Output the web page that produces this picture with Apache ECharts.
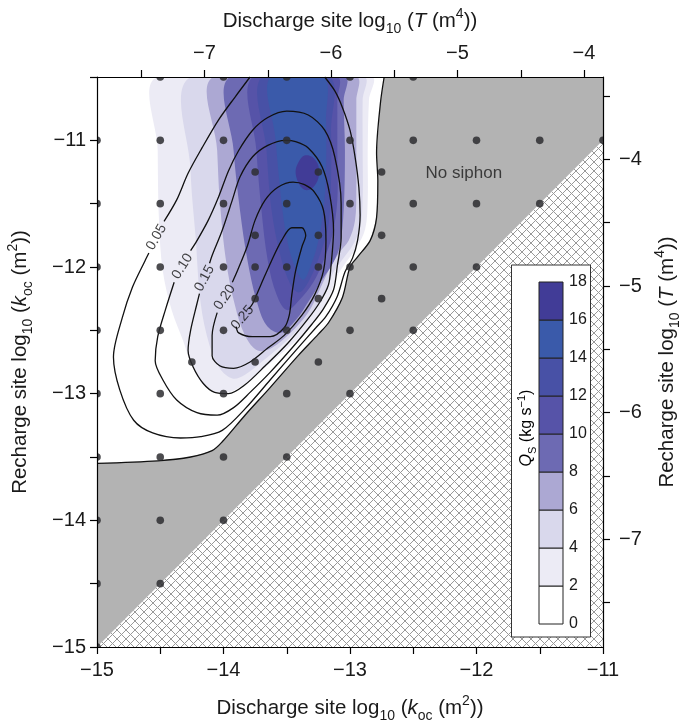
<!DOCTYPE html>
<html><head><meta charset="utf-8">
<script src="https://cdn.jsdelivr.net/npm/echarts@6/dist/echarts.min.js"></script>
<style>html,body{margin:0;padding:0;background:#fff}#c{width:685px;height:723px}</style>
</head><body><div id="c"></div>
<script>
// ---------------- data (log10 k units) ----------------
const kTicksX = [-15, -14, -13, -12, -11];
const kMinorX = [-15, -14.5, -14, -13.5, -13, -12.5, -12, -11.5, -11];
const kTicksY = [-15, -14, -13, -12, -11];
const kMinorY = [-15, -14.5, -14, -13.5, -13, -12.5, -12, -11.5, -11, -10.5];
const tTicksTop = [-7, -6, -5, -4];
const tMinorTop = [-7.5, -7, -6.5, -6, -5.5, -5, -4.5, -4];
const tTicksRight = [-7, -6, -5, -4];
const tMinorRight = [-7.5, -7, -6.5, -6, -5.5, -5, -4.5, -4, -3.5];
const kToT = 7.15; // log10 T = log10 k + 7.15

const qsLevels = [0, 2, 4, 6, 8, 10, 12, 14, 16, 18];
const qsColors = ['#ffffff', '#ecebf5', '#d9d8ec', '#aca8d3', '#6d6ab3', '#5653a8', '#4851a6', '#3a5aaa', '#413c97'];

// model sample points
const samplePts = [
  [-14.5,-10.5],[-14,-10.5],[-13.5,-10.5],[-13,-10.5],[-12.5,-10.5],
  [-15,-11],[-14.5,-11],[-14,-11],[-13.5,-11],[-13,-11],[-12.5,-11],[-12,-11],[-11.5,-11],[-11,-11],
  [-13.75,-11.25],[-13.25,-11.25],[-12.75,-11.25],
  [-15,-11.5],[-14.5,-11.5],[-14,-11.5],[-13.5,-11.5],[-13,-11.5],[-12.5,-11.5],[-12,-11.5],[-11.5,-11.5],
  [-13.75,-11.75],[-13.25,-11.75],[-12.75,-11.75],
  [-15,-12],[-14.5,-12],[-14,-12],[-13.75,-12],[-13.5,-12],[-13.25,-12],[-13,-12],[-12.5,-12],[-12,-12],
  [-13.75,-12.25],[-13.25,-12.25],[-12.75,-12.25],
  [-15,-12.5],[-14.5,-12.5],[-14,-12.5],[-13.5,-12.5],[-13,-12.5],[-12.5,-12.5],
  [-14.25,-12.75],[-13.75,-12.75],[-13.25,-12.75],
  [-15,-13],[-14.5,-13],[-14,-13],[-13.5,-13],[-13,-13],
  [-15,-13.5],[-14.5,-13.5],[-14,-13.5],[-13.5,-13.5],
  [-15,-14],[-14.5,-14],[-14,-14],
  [-15,-14.5],[-14.5,-14.5],
  [-15,-15]
];

// siphon boundary (Qs = 0)
const lineSiphon = [[-15.00,-13.55],[-14.52,-13.53],[-14.26,-13.50],[-14.09,-13.45],[-14.01,-13.38],[-13.83,-13.17],[-13.63,-12.95],[-13.41,-12.70],[-13.25,-12.53],[-13.17,-12.44],[-13.06,-12.24],[-13.00,-12.00],[-12.94,-11.92],[-12.84,-11.79],[-12.79,-11.61],[-12.78,-11.32],[-12.79,-11.10],[-12.76,-10.71],[-12.73,-10.50]];
const noSiphonCorners = [[-11,-10.5],[-11,-11],[-15,-15]];
const hatchPoly = [[-15,-15],[-11,-11],[-11,-15]];

// efficiency contour lines
const line005a = [[-13.79,-10.50],[-13.91,-10.66],[-14.04,-10.84],[-14.17,-11.06],[-14.28,-11.26],[-14.37,-11.47],[-14.47,-11.64]];
const line005b = [[-14.59,-11.89],[-14.62,-11.95],[-14.72,-12.16],[-14.80,-12.40],[-14.87,-12.71],[-14.82,-12.97],[-14.71,-13.21],[-14.56,-13.31],[-14.34,-13.35],[-14.18,-13.34],[-14.01,-13.29],[-13.83,-13.12],[-13.63,-12.89],[-13.43,-12.66],[-13.27,-12.48],[-13.19,-12.39],[-13.10,-12.23],[-13.04,-12.04],[-12.98,-11.93],[-12.94,-11.79],[-12.92,-11.59],[-12.93,-11.37],[-12.96,-11.13],[-13.00,-10.92],[-13.06,-10.74],[-13.12,-10.61],[-13.20,-10.50]];
const line010 = [[-14.39,-12.12],[-14.46,-12.34],[-14.52,-12.55],[-14.54,-12.74],[-14.48,-12.89],[-14.37,-13.05],[-14.21,-13.15],[-14.05,-13.17],[-13.92,-13.11],[-13.79,-12.99],[-13.63,-12.83],[-13.45,-12.63],[-13.30,-12.45],[-13.21,-12.33],[-13.13,-12.18],[-13.10,-11.99],[-13.07,-11.77],[-13.07,-11.50],[-13.12,-11.13],[-13.20,-10.92],[-13.33,-10.80],[-13.50,-10.77],[-13.65,-10.82],[-13.77,-10.92],[-13.88,-11.08],[-13.96,-11.24],[-14.04,-11.45],[-14.12,-11.63],[-14.22,-11.81],[-14.26,-11.87]];
const line015 = [[-14.19,-12.21],[-14.21,-12.29],[-14.26,-12.50],[-14.28,-12.66],[-14.24,-12.79],[-14.16,-12.92],[-14.07,-12.99],[-13.96,-13.00],[-13.83,-12.93],[-13.67,-12.78],[-13.49,-12.60],[-13.34,-12.42],[-13.24,-12.28],[-13.17,-12.14],[-13.15,-11.99],[-13.13,-11.71],[-13.16,-11.43],[-13.22,-11.21],[-13.33,-11.06],[-13.43,-11.01],[-13.51,-11.00],[-13.65,-11.04],[-13.77,-11.13],[-13.87,-11.29],[-13.93,-11.47],[-14.01,-11.71],[-14.09,-11.91],[-14.11,-11.97]];
const line020 = [[-14.05,-12.36],[-14.09,-12.54],[-14.09,-12.70],[-14.03,-12.78],[-13.92,-12.80],[-13.79,-12.75],[-13.65,-12.64],[-13.52,-12.54],[-13.38,-12.38],[-13.28,-12.22],[-13.21,-12.03],[-13.19,-11.79],[-13.21,-11.55],[-13.28,-11.41],[-13.36,-11.35],[-13.45,-11.33],[-13.57,-11.37],[-13.67,-11.47],[-13.75,-11.63],[-13.81,-11.83],[-13.89,-12.03],[-13.93,-12.12]];
const line025 = [[-13.90,-12.47],[-13.88,-12.52],[-13.77,-12.55],[-13.63,-12.55],[-13.52,-12.48],[-13.48,-12.38],[-13.46,-12.22],[-13.43,-12.03],[-13.38,-11.84],[-13.35,-11.75],[-13.38,-11.69],[-13.46,-11.69],[-13.54,-11.79],[-13.62,-11.95],[-13.70,-12.13],[-13.77,-12.29],[-13.80,-12.33]];
const contourLabelText = ['0.05', '0.10', '0.15', '0.20', '0.25'];
const contourLabelPos = [[-14.53,-11.765],[-14.325,-11.995],[-14.15,-12.09],[-13.99,-12.24],[-13.85,-12.40]];
const contourLabelAngle = [60, 58, 62, 56, 50];

// filled Qs regions (Qs >= level)
const qsFill2 = [[-14.52,-10.50],[-14.52,-11.08],[-14.51,-11.63],[-14.48,-12.03],[-14.41,-12.34],[-14.32,-12.58],[-14.24,-12.80],[-14.15,-12.94],[-14.02,-13.00],[-13.89,-12.96],[-13.73,-12.84],[-13.54,-12.68],[-13.34,-12.50],[-13.19,-12.29],[-13.10,-12.07],[-13.03,-11.96],[-12.95,-11.85],[-12.88,-11.70],[-12.86,-11.47],[-12.86,-11.08],[-12.85,-10.68],[-12.83,-10.50]];
const qsFill4 = [[-14.26,-10.50],[-14.26,-11.24],[-14.22,-11.77],[-14.18,-12.29],[-14.11,-12.62],[-14.03,-12.80],[-13.93,-12.88],[-13.83,-12.85],[-13.70,-12.75],[-13.51,-12.59],[-13.33,-12.40],[-13.21,-12.22],[-13.13,-12.04],[-13.06,-11.94],[-12.98,-11.83],[-12.92,-11.69],[-12.90,-11.47],[-12.90,-11.08],[-12.90,-10.68],[-12.89,-10.50]];
const qsFill6 = [[-14.08,-10.50],[-14.05,-11.08],[-14.03,-11.47],[-13.98,-11.95],[-13.91,-12.30],[-13.83,-12.54],[-13.73,-12.66],[-13.62,-12.64],[-13.47,-12.52],[-13.33,-12.36],[-13.24,-12.18],[-13.16,-12.01],[-13.08,-11.88],[-13.01,-11.79],[-12.96,-11.63],[-12.95,-11.39],[-12.95,-11.00],[-12.95,-10.68],[-12.95,-10.50]];
const qsFill8 = [[-13.95,-10.50],[-13.92,-11.08],[-13.87,-11.55],[-13.81,-11.95],[-13.74,-12.26],[-13.66,-12.46],[-13.55,-12.52],[-13.43,-12.42],[-13.32,-12.26],[-13.22,-12.10],[-13.13,-11.96],[-13.08,-11.83],[-13.05,-11.55],[-13.04,-11.08],[-13.05,-10.68],[-13.04,-10.50]];
const qsFill10 = [[-13.77,-10.50],[-13.74,-11.08],[-13.70,-11.55],[-13.65,-11.95],[-13.58,-12.22],[-13.50,-12.34],[-13.40,-12.26],[-13.29,-12.12],[-13.21,-11.95],[-13.14,-11.75],[-13.10,-11.47],[-13.10,-11.08],[-13.10,-10.68],[-13.10,-10.50]];
const qsFill12 = [[-13.70,-10.50],[-13.66,-11.08],[-13.62,-11.55],[-13.55,-11.91],[-13.47,-12.14],[-13.40,-12.20],[-13.32,-12.10],[-13.24,-11.91],[-13.17,-11.67],[-13.15,-11.32],[-13.15,-10.92],[-13.16,-10.50]];
const qsFill14 = [[-13.63,-10.50],[-13.59,-10.98],[-13.54,-11.50],[-13.50,-11.77],[-13.45,-11.96],[-13.37,-12.10],[-13.30,-11.96],[-13.25,-11.79],[-13.21,-11.55],[-13.19,-11.24],[-13.19,-10.84],[-13.21,-10.50]];
const qsFill16 = [[-13.36,-11.12],[-13.30,-11.13],[-13.25,-11.20],[-13.25,-11.30],[-13.30,-11.38],[-13.36,-11.39],[-13.41,-11.33],[-13.43,-11.24],[-13.40,-11.16]];
const noSiphonText = 'No siphon';
const noSiphonPos = [-12.10, -11.26];

// ---------------- chart ----------------
const FONT = '"Liberation Sans", Arial, Helvetica, sans-serif';
const TXT = '#1a1a1a';
function fmt(v) { return (v < 0 ? '\u2212' : '') + Math.abs(v); }
function richSet(size) {
  const lh = Math.round(size * 1.4);
  return {
    n: { fontSize: size, fontFamily: FONT, color: TXT, lineHeight: lh, verticalAlign: 'middle' },
    i: { fontSize: size, fontFamily: FONT, color: TXT, fontStyle: 'italic', lineHeight: lh, verticalAlign: 'middle' },
    s: { fontSize: Math.round(size * 0.68), fontFamily: FONT, color: TXT, lineHeight: lh, verticalAlign: 'bottom' },
    p: { fontSize: Math.round(size * 0.68), fontFamily: FONT, color: TXT, lineHeight: lh, verticalAlign: 'top' }
  };
}
const nameStyle = { fontSize: 20.5, fontFamily: FONT, color: TXT, rich: richSet(20.5) };
const axLine = { show: true, onZero: false, lineStyle: { color: '#000', width: 1.2 } };
const tickStyle = { color: '#000', width: 1.2 };
const labelBase = { fontSize: 20, fontFamily: FONT, color: TXT, formatter: fmt };

// hatch pattern
const pc = document.createElement('canvas');
pc.width = 9; pc.height = 9;
const g = pc.getContext('2d');
g.strokeStyle = '#999999'; g.lineWidth = 1;
g.beginPath(); g.moveTo(-1, -1); g.lineTo(10, 10); g.moveTo(10, -1); g.lineTo(-1, 10); g.stroke();
const hatchFill = { image: pc, repeat: 'repeat' };

function polySeries(polys, fills, smooth, z) {
  return {
    type: 'custom', xAxisIndex: 0, yAxisIndex: 0, z: z, silent: true, clip: true,
    data: polys.map(p => p[0]),
    encode: { x: 0, y: 1 },
    renderItem: function (params, api) {
      const i = params.dataIndex;
      return {
        type: 'polygon',
        shape: { points: polys[i].map(p => api.coord(p)), smooth: smooth },
        style: { fill: fills[i], stroke: null }
      };
    }
  };
}

const fills = [qsFill2, qsFill4, qsFill6, qsFill8, qsFill10, qsFill12, qsFill14, qsFill16];
const contourLines = [lineSiphon, line005a, line005b, line010, line015, line020, line025];

const series = [];
series.push(polySeries([hatchPoly], [hatchFill], 0, 1));
series.push(polySeries([lineSiphon.concat(noSiphonCorners)], ['#b3b3b3'], 0, 1));
series.push(polySeries(fills, qsColors.slice(1), 0.35, 2));
contourLines.forEach(d => series.push({
  type: 'line', xAxisIndex: 0, yAxisIndex: 0, data: d, symbol: 'none', showSymbol: false,
  smooth: 0.3, lineStyle: { color: '#111', width: 1.3 }, z: 3, silent: true
}));
// sample points, clipped to the plot area like the original
series.push({
  type: 'custom', xAxisIndex: 0, yAxisIndex: 0, z: 4, silent: true, clip: true,
  data: samplePts, encode: { x: 0, y: 1 },
  renderItem: function (params, api) {
    const c = api.coord([api.value(0), api.value(1)]);
    return { type: 'circle', shape: { cx: c[0], cy: c[1], r: 3.8 }, style: { fill: 'rgba(45,45,48,0.85)' } };
  }
});
series.push({
  type: 'scatter', xAxisIndex: 0, yAxisIndex: 0, z: 5, silent: true, symbolSize: 0,
  data: contourLabelPos.map((p, i) => ({ value: p, label: { rotate: contourLabelAngle[i] } })),
  label: { show: true, position: 'inside', fontSize: 14, fontFamily: FONT, color: '#111',
    formatter: p => contourLabelText[p.dataIndex] }
});
series.push({
  type: 'scatter', xAxisIndex: 0, yAxisIndex: 0, z: 5, silent: true, symbolSize: 0,
  data: [noSiphonPos],
  label: { show: true, position: 'inside', fontSize: 17, fontFamily: FONT, color: '#1a1a1a', formatter: noSiphonText }
});
// colour bar
series.push({
  type: 'custom', xAxisIndex: 2, yAxisIndex: 2, z: 60, silent: true,
  data: qsLevels.slice(0, -1).map((lo, i) => [0, lo, qsLevels[i + 1]]),
  encode: { x: 0, y: [1, 2] },
  renderItem: function (params, api) {
    const a = api.coord([0, api.value(2)]);
    const b = api.coord([1, api.value(1)]);
    return { type: 'rect', shape: { x: a[0], y: a[1], width: b[0] - a[0], height: b[1] - a[1] },
      style: { fill: qsColors[params.dataIndex], stroke: '#222', lineWidth: 1 } };
  }
});

const chart = echarts.init(document.getElementById('c'));
chart.setOption({
  animation: false,
  backgroundColor: '#fff',
  textStyle: { fontFamily: FONT },
  grid: [
    { left: 97, top: 77, width: 506, height: 570, containLabel: false, outerBoundsMode: 'none' },
    { left: 539, top: 282, width: 24, height: 342, containLabel: false, outerBoundsMode: 'none' }
  ],
  xAxis: [
    { gridIndex: 0, type: 'value', position: 'bottom', min: -15, max: -11, z: 40,
      axisLine: axLine, splitLine: { show: false },
      axisTick: { show: true, length: 7, customValues: kMinorX, lineStyle: tickStyle },
      axisLabel: Object.assign({ customValues: kTicksX, margin: 13 }, labelBase),
      name: '{n|Discharge site log}{s|10}{n| (}{i|k}{s|oc}{n| (m}{p|2}{n|))}',
      nameLocation: 'middle', nameGap: 47, nameTextStyle: nameStyle },
    { gridIndex: 0, type: 'value', position: 'top', min: -15 + kToT, max: -11 + kToT, z: 40,
      axisLine: axLine, splitLine: { show: false },
      axisTick: { show: true, length: 7, customValues: tMinorTop, lineStyle: tickStyle },
      axisLabel: Object.assign({ customValues: tTicksTop, margin: 14 }, labelBase),
      name: '{n|Discharge site log}{s|10}{n| (}{i|T}{n| (m}{p|4}{n|))}',
      nameLocation: 'middle', nameGap: 41, nameTextStyle: nameStyle },
    { gridIndex: 1, type: 'value', min: 0, max: 1, show: false }
  ],
  yAxis: [
    { gridIndex: 0, type: 'value', position: 'left', min: -15, max: -10.5, z: 40,
      axisLine: axLine, splitLine: { show: false },
      axisTick: { show: true, length: 7, customValues: kMinorY, lineStyle: tickStyle },
      axisLabel: Object.assign({ customValues: kTicksY, margin: 11 }, labelBase),
      name: '{n|Recharge site log}{s|10}{n| (}{i|k}{s|oc}{n| (m}{p|2}{n|))}',
      nameLocation: 'middle', nameGap: 62, nameTextStyle: nameStyle },
    { gridIndex: 0, type: 'value', position: 'right', min: -15 + kToT, max: -10.5 + kToT, z: 40,
      axisLine: axLine, splitLine: { show: false },
      axisTick: { show: true, length: 7, customValues: tMinorRight, lineStyle: tickStyle },
      axisLabel: Object.assign({ customValues: tTicksRight, margin: 16 }, labelBase),
      name: '{n|Recharge site log}{s|10}{n| (}{i|T}{n| (m}{p|4}{n|))}',
      nameLocation: 'middle', nameGap: 50, nameTextStyle: nameStyle },
    { gridIndex: 1, type: 'value', position: 'right', min: 0, max: 18, interval: 2, z: 60,
      axisLine: { show: false }, axisTick: { show: false }, splitLine: { show: false },
      axisLabel: { fontSize: 16, fontFamily: FONT, color: TXT, margin: 6 } }
  ],
  graphic: [
    { type: 'rect', x: 511.5, y: 265, z: 50, silent: true,
      shape: { width: 79, height: 372 }, style: { fill: '#fff', stroke: '#333', lineWidth: 1 } },
    { type: 'text', x: 527, y: 428, z: 61, rotation: Math.PI / 2, silent: true,
      style: { text: '{i|Q}{s|S}{n| (kg s}{p|\u22121}{n|)}', rich: richSet(16), align: 'center', verticalAlign: 'middle' } }
  ],
  series: series
});
</script></body></html>
